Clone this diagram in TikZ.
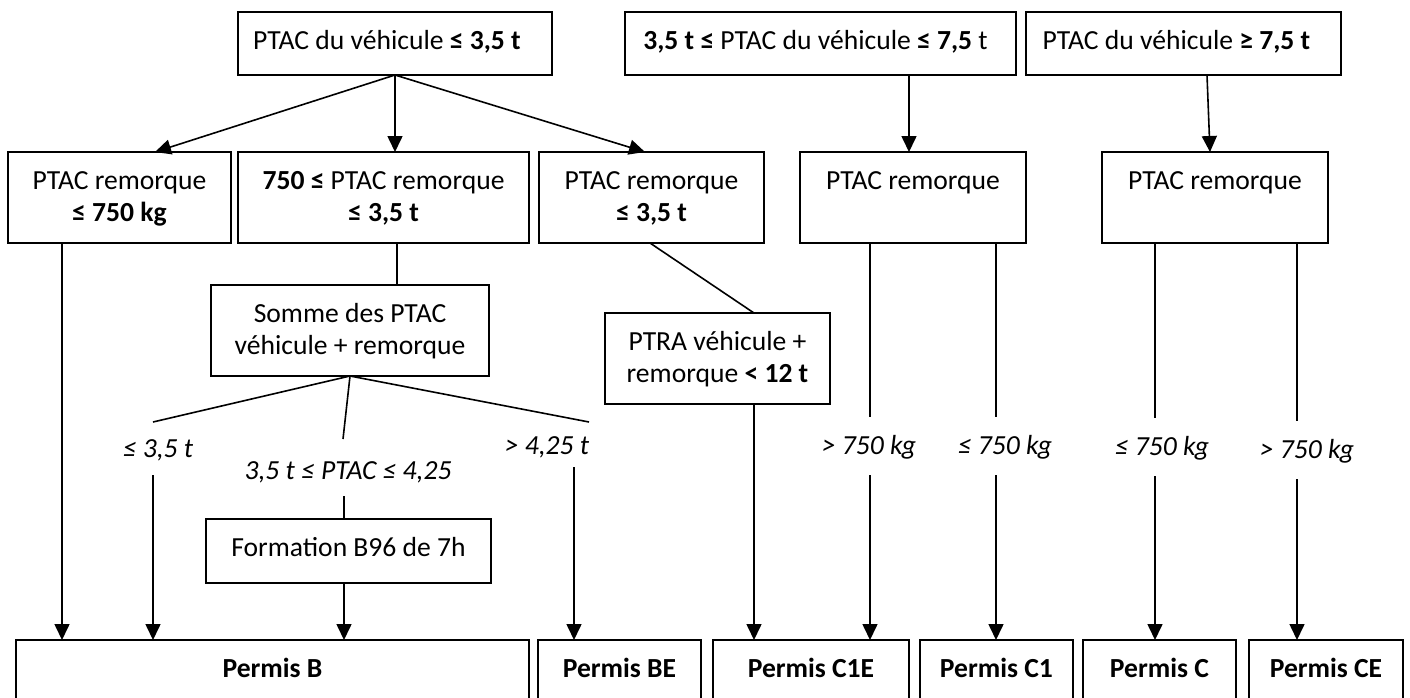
\documentclass[tikz,border=0pt]{standalone}
\usepackage{fontspec}
\setmainfont{Carlito}
\usetikzlibrary{arrows.meta}
\newcommand{\bt}[3]{\parbox[c][#2][t]{#1}{\centering\rule{0pt}{18.8pt}#3}}
\begin{document}
\begin{tikzpicture}[x=0.5pt,y=-0.5pt,
  box/.style={draw, line width=0.8pt, inner sep=0pt, outer sep=0pt, font=\fontsize{13.8}{15.8}\selectfont},
  arr/.style={line width=0.8pt, -{Triangle[width=7.5pt,length=8pt]}},
  ln/.style={line width=0.8pt},
  lab/.style={inner sep=0pt, font=\fontsize{13.8}{15.8}\selectfont\itshape}]
\useasboundingbox (0,0) rectangle (1410,697);
% top row
\node[box] (t1) at (395,43.5) {\bt{157pt}{31.5pt}{PTAC du véhicule \textbf{≤ 3,5 t}\hspace*{8pt}}};
\node[box] (t2) at (820.5,43.5) {\bt{195.5pt}{31.5pt}{\textbf{3,5 t ≤} PTAC du véhicule \textbf{≤ 7,5} t\hspace*{5pt}}};
\node[box] (t3) at (1183.5,43.5) {\bt{157.5pt}{31.5pt}{PTAC du véhicule \textbf{≥ 7,5 t}\hspace*{7pt}}};
% second row
\node[box] (A) at (119.5,197.5) {\bt{111.5pt}{45.5pt}{PTAC remorque\\\textbf{≤ 750 kg}}};
\node[box] (B) at (383.5,197.5) {\bt{145.5pt}{45.5pt}{\textbf{750 ≤} PTAC remorque\\\textbf{≤ 3,5 t}}};
\node[box] (C) at (651.5,197.5) {\bt{112.5pt}{45.5pt}{PTAC remorque\\\textbf{≤ 3,5 t}}};
\node[box] (D) at (913,197.5) {\bt{113pt}{45.5pt}{PTAC remorque}};
\node[box] (E) at (1215,197.5) {\bt{113pt}{45.5pt}{PTAC remorque}};
% middle
\node[box] (S) at (350,330.5) {\bt{139pt}{45.5pt}{Somme des PTAC\\véhicule + remorque}};
\node[box] (R) at (717.5,358.5) {\bt{112.5pt}{45.5pt}{PTRA véhicule +\\remorque \textbf{< 12 t}}};
\node[box] (F) at (348.5,551) {\bt{142.5pt}{32pt}{Formation B96 de 7h}};
% bottom row
\node[box] (PB) at (272.5,680) {\bt{256.5pt}{40pt}{\textbf{Permis B}}};
\node[box] (PBE) at (619.5,680) {\bt{81.5pt}{40pt}{\textbf{Permis BE}}};
\node[box] (PC1E) at (811,680) {\bt{98pt}{40pt}{\textbf{Permis C1E}}};
\node[box] (PC1) at (996.5,680) {\bt{76.5pt}{40pt}{\textbf{Permis C1}}};
\node[box] (PC) at (1159.5,680) {\bt{76.5pt}{40pt}{\textbf{Permis C}}};
\node[box] (PCE) at (1326,680) {\bt{77pt}{40pt}{\textbf{Permis CE}}};
% labels
\node[lab] (l1) at (158,450) {≤ 3,5 t};
\node[lab] (l2) at (348,472) {3,5 t ≤ PTAC ≤ 4,25};
\node[lab] (l3) at (547,447) {> 4,25 t};
\node[lab] (l4) at (869,447) {> 750 kg};
\node[lab] (l5) at (1005,447) {≤ 750 kg};
\node[lab] (l6) at (1162,448) {≤ 750 kg};
\node[lab] (l7) at (1307,451) {> 750 kg};
% coordinates
\coordinate (a1) at (155,152);
\coordinate (a3) at (645,152);
\coordinate (a4) at (909,75);
\coordinate (a5) at (909,152);
\coordinate (a6) at (1207,75);
\coordinate (a7) at (1210,152);
\coordinate (s1) at (153,422);
\coordinate (s2) at (343,439);
\coordinate (s3) at (589,422);
\coordinate (u1) at (153,475);
\coordinate (u2) at (344,496);
\coordinate (u3) at (574,467);
\coordinate (cA) at (62,243);
\coordinate (cB) at (397,243);
\coordinate (cC) at (650,243);
\coordinate (cR) at (754,313);
\coordinate (d1) at (870,243);
\coordinate (d1e) at (870,417);
\coordinate (d1s) at (870,475);
\coordinate (d2) at (996,243);
\coordinate (d2e) at (996,417);
\coordinate (d2s) at (996,475);
\coordinate (e1) at (1155,243);
\coordinate (e1e) at (1155,418);
\coordinate (e1s) at (1155,476);
\coordinate (e2) at (1297,243);
\coordinate (e2e) at (1297,421);
\coordinate (e2s) at (1297,479);
% connectors top
\draw[arr] (t1.south) -- (a1);
\draw[arr] (t1.south) -- (t1.south |- B.north);
\draw[arr] (t1.south) -- (a3);
\draw[arr] (a4) -- (a5);
\draw[arr] (a6) -- (a7);
% left branch
\draw[arr] (cA) -- (cA |- PB.north);
\draw[ln] (cB) -- (cB |- S.north);
\draw[ln] (S.south) -- (s1);
\draw[ln] (S.south) -- (s2);
\draw[ln] (S.south) -- (s3);
\draw[arr] (u1) -- (u1 |- PB.north);
\draw[ln] (u2) -- (u2 |- F.north);
\draw[arr] (u2 |- F.south) -- (u2 |- PB.north);
\draw[arr] (u3) -- (u3 |- PBE.north);
% PTRA
\draw[ln] (cC) -- (cR);
\draw[arr] (cR |- R.south) -- (cR |- PC1E.north);
% D, E
\draw[ln] (d1) -- (d1e);
\draw[arr] (d1s) -- (d1s |- PC1E.north);
\draw[ln] (d2) -- (d2e);
\draw[arr] (d2s) -- (d2s |- PC1.north);
\draw[ln] (e1) -- (e1e);
\draw[arr] (e1s) -- (e1s |- PC.north);
\draw[ln] (e2) -- (e2e);
\draw[arr] (e2s) -- (e2s |- PCE.north);
\end{tikzpicture}
\end{document}
